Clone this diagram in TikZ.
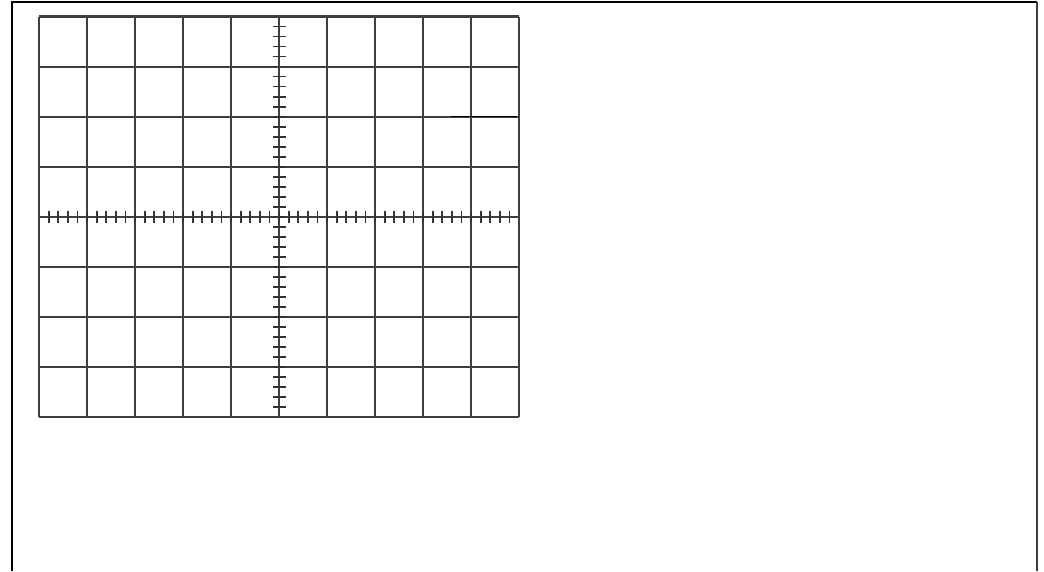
\documentclass[tikz,border=0pt]{standalone}
\begin{document}
\begin{tikzpicture}[x=1pt,y=-1pt,
  framestyle/.style={line width=1.8pt,draw=black},
  rightframe/.style={line width=2.6pt,draw=black!75},
  gridline/.style={line width=2.1pt,draw=black!75},
  tickline/.style={line width=1.8pt,draw=black!80},
  markline/.style={line width=1.6pt,draw=black}]
\useasboundingbox (0,0) rectangle (1044,571);
% outer frame (open at the bottom)
\coordinate (fbl) at (12,571);
\coordinate (ftl) at (12,2);
\coordinate (ftr) at (1037,2);
\coordinate (fbr) at (1037,571);
\draw[framestyle] (fbl) -- (ftl) -- (ftr);
\draw[rightframe] (ftr) -- (fbr);
% graticule
\foreach \i in {0,...,10} {
  \draw[gridline] (39+48*\i,16.5) -- (39+48*\i,417);
}
\foreach \j in {0,...,8} {
  \draw[gridline] (39,16.5+50.06*\j) -- (519,16.5+50.06*\j);
}
% ticks on the horizontal centre axis
\foreach \i in {1,...,49} {
  \draw[tickline] (39+9.6*\i,210.5) -- (39+9.6*\i,222.5);
}
% ticks on the vertical centre axis
\foreach \j in {1,...,39} {
  \draw[tickline] (272.5,16.5+10.012*\j) -- (285.5,16.5+10.012*\j);
}
% darker short segment
\coordinate (ma) at (451,116.6);
\coordinate (mb) at (517,116.6);
\draw[markline] (ma) -- (mb);
\end{tikzpicture}
\end{document}
